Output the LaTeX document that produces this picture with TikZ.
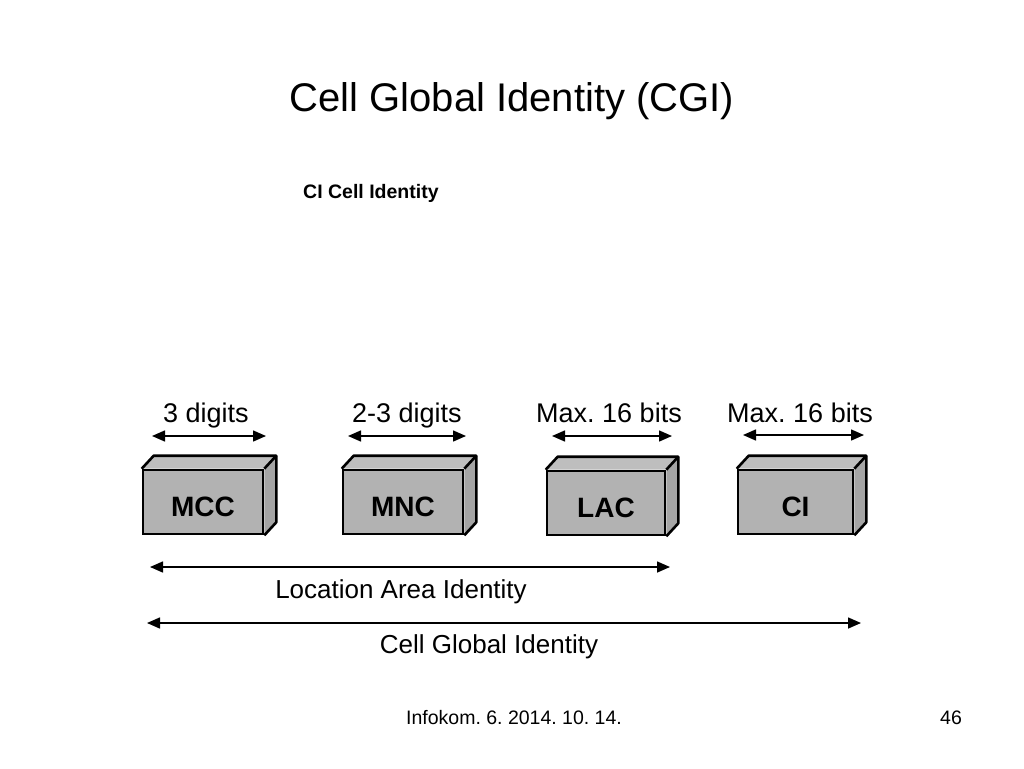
\documentclass[tikz,border=0pt]{standalone}
\usepackage{fontspec}
\setmainfont{Liberation Sans}
\usetikzlibrary{arrows.meta}
\definecolor{frontgray}{RGB}{178,178,178}
\definecolor{topgray}{RGB}{190,190,190}
\definecolor{sidegray}{RGB}{165,165,165}
\tikzset{
  fieldbox/.style={draw=black, line width=2.6pt, fill=frontgray, minimum height=64pt, inner sep=0pt,
    text height=28pt, text depth=0pt, font=\fontsize{28}{30}\selectfont\bfseries},
  facepart/.style={draw=black, line width=2.6pt, line join=round},
  dimarrow/.style={line width=1.5pt, {Triangle[length=13pt,width=11pt]}-{Triangle[length=13pt,width=11pt]}},
  dimlabel/.style={font=\fontsize{27}{29}\selectfont, anchor=base, inner sep=0pt},
}
\newcommand{\boxdepth}[1]{%
  \fill[topgray] (#1.north west) -- ++(12,-13) -- ([shift={(12,-13)}]#1.north east) -- (#1.north east) -- cycle;
  \fill[sidegray] (#1.north east) -- ++(12,-13) -- ([shift={(12,-13)}]#1.south east) -- (#1.south east) -- cycle;
  \draw[facepart] (#1.north west) -- ++(12,-13) -- ([shift={(12,-13)}]#1.north east) -- ([shift={(12,-13)}]#1.south east) -- (#1.south east);
  \draw[facepart] (#1.north east) -- ++(12,-13);
}
\begin{document}
\frenchspacing
\begin{tikzpicture}[x=1pt,y=-1pt]
\useasboundingbox (0,0) rectangle (1024,768);
\fill[white] (0,0) rectangle (1024,768);

\node[anchor=base, inner sep=0pt, font=\fontsize{40}{44}\selectfont] (title) at (512,111) {Cell Global Identity (CGI)};
\node[anchor=base west, inner sep=0pt, font=\fontsize{19.5}{22}\selectfont\bfseries] (subtitle) at (303,198) {CI Cell Identity};

% boxes (front faces)
\node[fieldbox, minimum width=120pt] (mcc) at (203,502) {MCC};
\node[fieldbox, minimum width=120pt] (mnc) at (403,502) {MNC};
\node[fieldbox, minimum width=118pt] (lac) at (606,503) {LAC};
\node[fieldbox, minimum width=115pt] (ci)  at (795.5,502) {CI};
\boxdepth{mcc}
\boxdepth{mnc}
\boxdepth{lac}
\boxdepth{ci}

% field length labels and arrows
\node[dimlabel] (l1) at (206,422) {3 digits};
\node[dimlabel] (l2) at (407,422) {2-3 digits};
\node[dimlabel] (l3) at (609,422) {Max. 16 bits};
\node[dimlabel] (l4) at (800,422) {Max. 16 bits};
\coordinate (a1l) at (152,436); \coordinate (a1r) at (266,436);
\coordinate (a2l) at (348,436); \coordinate (a2r) at (466,436);
\coordinate (a3l) at (552,436); \coordinate (a3r) at (672,436);
\coordinate (a4l) at (743,435); \coordinate (a4r) at (864,435);
\draw[dimarrow] (a1l) -- (a1r);
\draw[dimarrow] (a2l) -- (a2r);
\draw[dimarrow] (a3l) -- (a3r);
\draw[dimarrow] (a4l) -- (a4r);

% LAI and CGI
\coordinate (lail) at (150,567); \coordinate (lair) at (670,567);
\draw[dimarrow] (lail) -- (lair);
\node[dimlabel, font=\fontsize{26}{28}\selectfont] (lai) at (401,598) {Location Area Identity};
\coordinate (cgil) at (147,623); \coordinate (cgir) at (861,623);
\draw[dimarrow] (cgil) -- (cgir);
\node[dimlabel, font=\fontsize{26}{28}\selectfont] (cgi) at (489,653) {Cell Global Identity};

% footer
\node[anchor=base, inner sep=0pt, font=\fontsize{19.5}{22}\selectfont] (footer) at (514,724) {Infokom. 6. 2014. 10. 14.};
\node[anchor=base, inner sep=0pt, font=\fontsize{19.5}{22}\selectfont] (page) at (951,724) {46};
\end{tikzpicture}
\end{document}
